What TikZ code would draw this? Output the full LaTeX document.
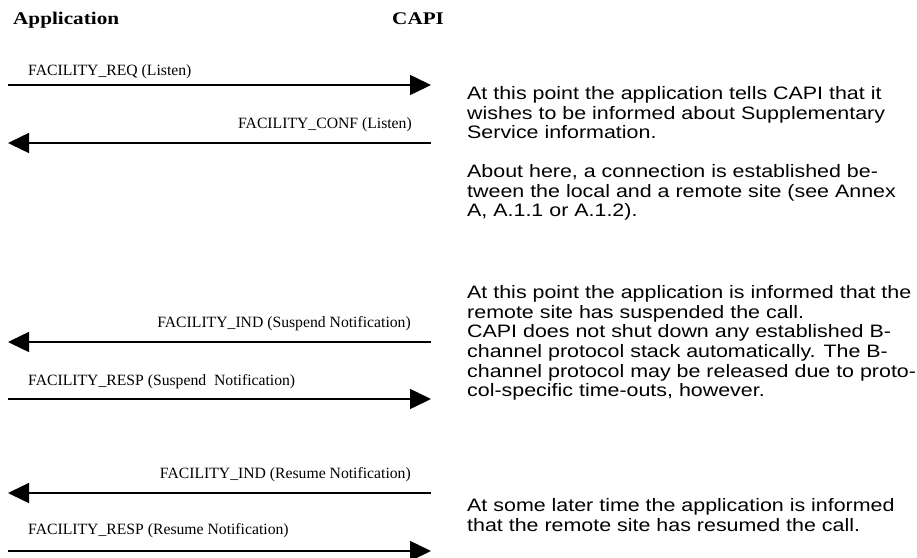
\documentclass[tikz,border=0pt]{standalone}
\usepackage{fontspec}
\setmainfont{Liberation Serif}
\newfontfamily\descfont[FakeStretch=1.19]{Liberation Sans}
\newfontfamily\headfont[FakeStretch=1.19]{Liberation Serif}
\usetikzlibrary{arrows.meta}
\begin{document}
\begin{tikzpicture}[x=1pt,y=-1pt,
  msg/.style={line width=1.5pt,-{Triangle[length=21pt,width=20pt]}},
  lblL/.style={font=\fontsize{15.7}{18}\selectfont,inner sep=0pt,anchor=base west},
  lblR/.style={font=\fontsize{15.7}{18}\selectfont,inner sep=0pt,anchor=base east},
  hdr/.style={font=\headfont\bfseries\fontsize{17.8}{20}\selectfont,inner sep=0pt,anchor=base west},
  desc/.style={font=\descfont\fontsize{18}{19.6}\selectfont,inner sep=0pt,anchor=north west,align=left}]
\useasboundingbox (0,0) rectangle (917,557);
% headers
\node[hdr] (app) at (13,24) {Application};
\node[hdr] (capi) at (392,24) {CAPI};
% endpoints
\coordinate (L1) at (8,85);  \coordinate (R1) at (431,85);
\coordinate (L2) at (8,143); \coordinate (R2) at (431,143);
\coordinate (L3) at (8,342); \coordinate (R3) at (431,342);
\coordinate (L4) at (8,399); \coordinate (R4) at (431,399);
\coordinate (L5) at (8,493); \coordinate (R5) at (431,493);
\coordinate (L6) at (8,551); \coordinate (R6) at (431,551);
% messages
\draw[msg] (L1) -- (R1);
\node[lblL] (m1) at (28,75) {FACILITY\_REQ (Listen)};
\draw[msg] (R2) -- (L2);
\node[lblR] (m2) at (412,128) {FACILITY\_CONF (Listen)};
\draw[msg] (R3) -- (L3);
\node[lblR] (m3) at (411,327) {FACILITY\_IND (Suspend Notification)};
\draw[msg] (L4) -- (R4);
\node[lblL] (m4) at (28,385) {FACILITY\_RESP (Suspend\ \ Notification)};
\draw[msg] (R5) -- (L5);
\node[lblR] (m5) at (411,478) {FACILITY\_IND (Resume Notification)};
\draw[msg] (L6) -- (R6);
\node[lblL] (m6) at (28,534) {FACILITY\_RESP (Resume Notification)};
% descriptions
\node[desc] (d1) at (467,86.5) {At this point the application tells CAPI that it\\wishes to be informed about Supplementary\\Service information.};
\node[desc] (d2) at (467,164.5) {About here, a connection is established be-\\tween the local and a remote site (see Annex\\A, A.1.1 or A.1.2).};
\node[desc] (d3) at (467,285.5) {At this point the application is informed that the\\remote site has suspended the call.\\CAPI does not shut down any established B-\\channel protocol stack automatically. The B-\\channel protocol may be released due to proto-\\col-specific time-outs, however.};
\node[desc] (d4) at (467,498.5) {At some later time the application is informed\\that the remote site has resumed the call.};
\end{tikzpicture}
\end{document}
